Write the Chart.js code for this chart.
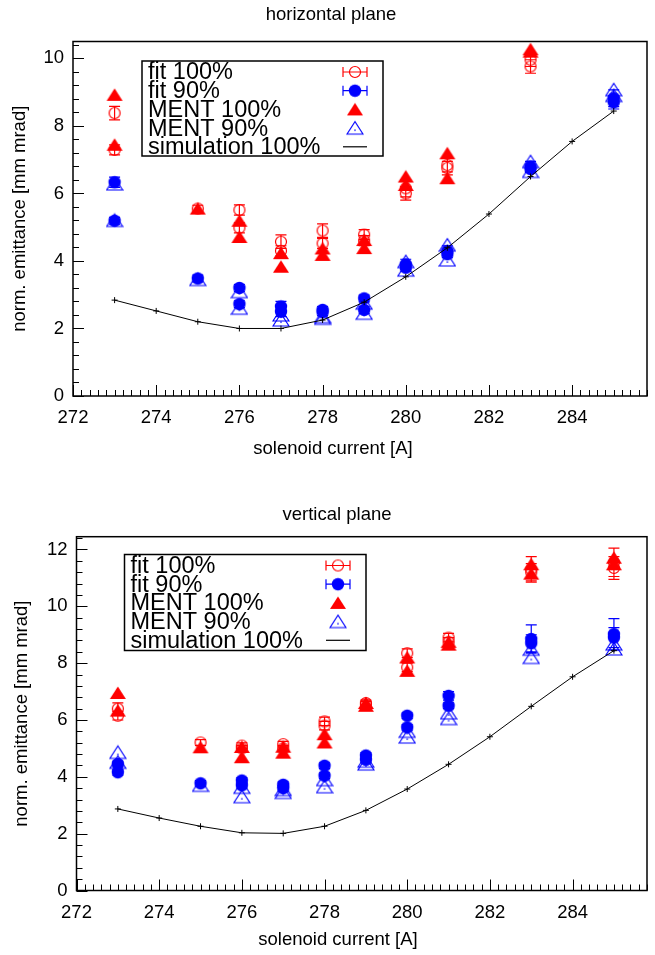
<!DOCTYPE html>
<html>
<head>
<meta charset="utf-8">
<script src="https://cdn.jsdelivr.net/npm/chart.js@4.4.0/dist/chart.umd.min.js"></script>
<style>
  body { margin: 0; background: #fff; }
  canvas { display: block; }
</style>
</head>
<body>
<canvas id="hChart" width="655" height="478"></canvas>
<canvas id="vChart" width="655" height="477"></canvas>
<script>
// simulation (line) - same currents for both planes
const simCurrent = [273, 274, 275, 276, 277, 278, 279, 280, 281, 282, 283, 284, 285];
const hSim = [2.84, 2.52, 2.2, 2.0, 2.0, 2.25, 2.78, 3.53, 4.39, 5.39, 6.5, 7.54, 8.44];
const vSim = [2.87, 2.55, 2.26, 2.03, 2.01, 2.26, 2.82, 3.57, 4.44, 5.41, 6.48, 7.52, 8.44];

// horizontal plane measurements (two runs per current)
const hCurrent100 = [273, 273, 275, 276, 276, 277, 277, 278, 278, 279, 279, 280, 280, 281, 281, 283, 283];
const hFit100 = [8.38, 7.29, 5.55, 5.51, 4.98, 4.57, 4.3, 4.9, 4.52, 4.78, 4.6, 6.15, 6.0, 6.84, 6.75, 9.96, 9.76];
const hFit100Err = [0.2, 0.15, 0.1, 0.15, 0.15, 0.2, 0.15, 0.2, 0.15, 0.15, 0.15, 0.25, 0.2, 0.2, 0.2, 0.2, 0.2];
const hMent100 = [8.92, 7.44, 5.55, 5.19, 4.71, 4.23, 3.83, 4.37, 4.18, 4.62, 4.38, 6.5, 6.25, 7.19, 6.45, 10.27, 10.2];
const hCurrent90 = [273, 273, 275, 276, 276, 277, 277, 278, 278, 279, 279, 280, 280, 281, 281, 283, 283, 285, 285];
const hFit90 = [6.33, 5.19, 3.48, 3.2, 2.72, 2.65, 2.5, 2.55, 2.48, 2.89, 2.55, 3.9, 3.8, 4.3, 4.2, 6.8, 6.72, 8.82, 8.7];
const hFit90Err = [0.15, 0.1, 0.1, 0.1, 0.1, 0.15, 0.15, 0.1, 0.1, 0.1, 0.1, 0.15, 0.1, 0.15, 0.1, 0.15, 0.1, 0.25, 0.2];
const hMent90 = [6.28, 5.2, 3.45, 3.09, 2.6, 2.4, 2.25, 2.35, 2.3, 2.75, 2.45, 3.98, 3.73, 4.47, 4.03, 6.94, 6.65, 9.07, 8.9];

// vertical plane measurements
const vCurrent = [273, 273, 275, 276, 276, 277, 277, 278, 278, 279, 279, 280, 280, 281, 281, 283, 283, 285, 285];
const vFit100 = [6.4, 6.15, 5.21, 5.1, 5.0, 5.15, 5.0, 5.95, 5.8, 6.6, 6.55, 8.35, 7.85, 8.9, 8.75, 11.3, 11.2, 11.55, 11.35];
const vFit100Err = [0.2, 0.15, 0.1, 0.1, 0.1, 0.1, 0.1, 0.15, 0.15, 0.1, 0.1, 0.15, 0.15, 0.15, 0.15, 0.45, 0.3, 0.5, 0.4];
const vMent100 = [6.95, 6.33, 5.04, 5.05, 4.69, 5.06, 4.85, 5.5, 5.21, 6.6, 6.5, 8.2, 7.73, 8.75, 8.65, 11.48, 11.15, 11.71, 11.48];
const vFit90 = [4.45, 4.16, 3.77, 3.87, 3.7, 3.72, 3.6, 4.39, 4.04, 4.75, 4.6, 6.15, 5.74, 6.85, 6.5, 8.85, 8.7, 9.02, 8.9];
const vFit90Err = [0.1, 0.1, 0.1, 0.1, 0.1, 0.1, 0.1, 0.1, 0.1, 0.1, 0.1, 0.1, 0.1, 0.15, 0.1, 0.5, 0.3, 0.55, 0.35];
const vMent90 = [4.86, 4.51, 3.7, 3.63, 3.3, 3.55, 3.45, 3.9, 3.65, 4.55, 4.45, 5.6, 5.4, 6.25, 6.05, 8.49, 8.2, 8.67, 8.5];

const seriesLabels = ['fit 100%', 'fit 90%', 'MENT 100%', 'MENT 90%', 'simulation 100%'];

const FONT = "'Liberation Sans', Arial, sans-serif";
const RED = '#ff0000';
const BLUE = '#0000ff';

Chart.defaults.color = '#000';
Chart.defaults.font.family = FONT;

// little canvases used as point styles (gnuplot-like markers)
function marker(kind, color) {
    const c = document.createElement('canvas');
    c.width = 18;
    c.height = 16;
    const g = c.getContext('2d');
    g.strokeStyle = color;
    g.fillStyle = color;
    g.lineWidth = 1.2;
    if (kind === 'openCircle') {
        g.beginPath(); g.arc(9, 8, 5.5, 0, Math.PI * 2); g.stroke();
    } else if (kind === 'dot') {
        g.beginPath(); g.arc(9, 8, 6.2, 0, Math.PI * 2); g.fill();
    } else {
        g.beginPath(); g.moveTo(9, 1.5); g.lineTo(17, 14); g.lineTo(1, 14); g.closePath();
        if (kind === 'triangle') {
            g.fill();
        } else {
            g.stroke();
            g.fillRect(8.3, 9.4, 1.4, 1.4);
        }
    }
    return c;
}

const markers = {
    fit100: marker('openCircle', RED),
    fit90: marker('dot', BLUE),
    ment100: marker('triangle', RED),
    ment90: marker('openTriangle', BLUE)
};

function toPoints(xs, ys) {
    return xs.map((x, i) => ({ x: x, y: ys[i] }));
}

// vertical error bars for the fit results
const errorBars = {
    id: 'errorBars',
    afterDatasetDraw(chart, args) {
        const ds = chart.data.datasets[args.index];
        if (!ds.errors) return;
        const { ctx } = chart;
        const y = chart.scales.y;
        ctx.save();
        ctx.strokeStyle = ds.borderColor;
        ctx.lineWidth = 1.2;
        ctx.beginPath();
        args.meta.data.forEach((pt, i) => {
            const v = ds.data[i].y;
            const e = ds.errors[i];
            const top = y.getPixelForValue(v + e);
            const bot = y.getPixelForValue(v - e);
            ctx.moveTo(pt.x, top); ctx.lineTo(pt.x, bot);
            ctx.moveTo(pt.x - 5.5, top); ctx.lineTo(pt.x + 5.5, top);
            ctx.moveTo(pt.x - 5.5, bot); ctx.lineTo(pt.x + 5.5, bot);
        });
        ctx.stroke();
        ctx.restore();
    }
};

// border with inward major/minor ticks
const frameTicks = {
    id: 'frameTicks',
    beforeDatasetsDraw(chart) {
        const { ctx, chartArea: a } = chart;
        const x = chart.scales.x;
        const y = chart.scales.y;
        ctx.save();
        ctx.strokeStyle = '#000';
        ctx.lineWidth = 1;
        ctx.beginPath();
        for (let i = 0; ; i++) {
            const v = x.min + i * 0.2;
            if (v > x.max + 1e-6) break;
            const px = Math.round(x.getPixelForValue(v)) + 0.5;
            const len = i % 10 === 0 ? 11 : 6;
            ctx.moveTo(px, a.bottom); ctx.lineTo(px, a.bottom - len);
        }
        for (let i = 0; ; i++) {
            const v = i * 0.4;
            if (v > y.max + 1e-6) break;
            const py = Math.round(y.getPixelForValue(v)) + 0.5;
            const len = i % 5 === 0 ? 11 : 6;
            ctx.moveTo(a.left, py); ctx.lineTo(a.left + len, py);
        }
        ctx.stroke();
        ctx.lineWidth = 1.5;
        ctx.strokeRect(a.left, a.top, a.right - a.left, a.bottom - a.top);
        ctx.restore();
    }
};

// plot title and x caption, centred on the page like the gnuplot output
const captions = {
    id: 'captions',
    afterDraw(chart, args, opts) {
        const { ctx } = chart;
        ctx.save();
        ctx.fillStyle = '#000';
        ctx.font = '18.5px ' + FONT;
        ctx.textAlign = 'center';
        ctx.textBaseline = 'middle';
        opts.items.forEach((it) => ctx.fillText(it.text, it.x, it.y));
        ctx.restore();
    }
};

// key box drawn inside the plot, text left / symbol right
const keyBox = {
    id: 'keyBox',
    afterDatasetsDraw(chart, args, opts) {
        const { ctx } = chart;
        const { left, top, width, height } = opts;
        ctx.save();
        ctx.fillStyle = '#fff';
        ctx.fillRect(left, top, width, height);
        ctx.strokeStyle = '#000';
        ctx.lineWidth = 1.5;
        ctx.strokeRect(left, top, width, height);
        ctx.font = '23.5px ' + FONT;
        ctx.textBaseline = 'middle';
        ctx.textAlign = 'left';
        const sx = left + width - 28;
        chart.data.datasets.forEach((ds, i) => {
            const yy = top + 11 + i * 18.7;
            ctx.fillStyle = '#000';
            ctx.fillText(ds.label, left + 6, yy + 1);
            ctx.strokeStyle = ds.borderColor;
            ctx.lineWidth = 1.2;
            if (ds.errors) {
                ctx.beginPath();
                ctx.moveTo(sx - 12, yy); ctx.lineTo(sx + 12, yy);
                ctx.moveTo(sx - 12, yy - 5); ctx.lineTo(sx - 12, yy + 5);
                ctx.moveTo(sx + 12, yy - 5); ctx.lineTo(sx + 12, yy + 5);
                ctx.stroke();
            }
            if (ds.showLine) {
                ctx.beginPath();
                ctx.moveTo(sx - 12, yy); ctx.lineTo(sx + 12, yy);
                ctx.stroke();
            } else {
                const m = ds.pointStyle;
                ctx.drawImage(m, sx - m.width / 2, yy - m.height / 2);
            }
        });
        ctx.restore();
    }
};

function makeChart(id, opt) {
    const W = 655;
    const H = opt.height;
    const datasets = [
        {
            label: seriesLabels[0], data: toPoints(opt.cur100, opt.fit100), errors: opt.fit100Err,
            borderColor: RED, pointStyle: markers.fit100, pointRadius: 6, showLine: false, order: 5
        },
        {
            label: seriesLabels[1], data: toPoints(opt.cur90, opt.fit90), errors: opt.fit90Err,
            borderColor: BLUE, pointStyle: markers.fit90, pointRadius: 6, showLine: false, order: 4
        },
        {
            label: seriesLabels[2], data: toPoints(opt.cur100, opt.ment100),
            borderColor: RED, pointStyle: markers.ment100, pointRadius: 7, showLine: false, order: 3
        },
        {
            label: seriesLabels[3], data: toPoints(opt.cur90, opt.ment90),
            borderColor: BLUE, pointStyle: markers.ment90, pointRadius: 7, showLine: false, order: 2
        },
        {
            label: seriesLabels[4], data: toPoints(simCurrent, opt.sim),
            borderColor: '#000', backgroundColor: '#000', borderWidth: 1, showLine: true, tension: 0,
            pointStyle: 'cross', pointRadius: 3, pointBorderWidth: 1, order: 1
        }
    ];

    return new Chart(document.getElementById(id), {
        type: 'scatter',
        data: { datasets: datasets },
        options: {
            responsive: false,
            animation: false,
            devicePixelRatio: 1,
            layout: { padding: { left: 0, right: W - opt.box.right, top: opt.box.top, bottom: 0 } },
            plugins: {
                legend: { display: false },
                tooltip: { enabled: false },
                title: { display: false },
                keyBox: opt.key,
                captions: {
                    items: [
                        { text: opt.title, x: opt.titlePos[0], y: opt.titlePos[1] },
                        { text: 'solenoid current [A]', x: opt.xTitlePos[0], y: opt.xTitlePos[1] }
                    ]
                }
            },
            scales: {
                x: {
                    type: 'linear',
                    min: 272,
                    max: 285.8,
                    grid: { display: false, drawTicks: false },
                    border: { display: false },
                    ticks: {
                        stepSize: 2,
                        includeBounds: false,
                        padding: 11,
                        maxRotation: 0,
                        font: { size: 18.5 },
                        callback: (v) => (v % 2 === 0 ? String(v) : '')
                    },
                    afterFit: (s) => { s.height = H - opt.box.bottom; }
                },
                y: {
                    type: 'linear',
                    min: 0,
                    max: opt.ymax,
                    grid: { display: false, drawTicks: false },
                    border: { display: false },
                    ticks: {
                        stepSize: 2,
                        includeBounds: false,
                        padding: 9,
                        font: { size: 18.5 },
                        callback: (v) => (v % 2 === 0 ? String(v) : '')
                    },
                    title: {
                        display: true,
                        text: 'norm. emittance [mm mrad]',
                        font: { size: 18.5 },
                        padding: { top: opt.yTitlePad, bottom: 0 }
                    },
                    afterFit: (s) => { s.width = opt.box.left; }
                }
            }
        },
        plugins: [frameTicks, errorBars, keyBox, captions]
    });
}

makeChart('hChart', {
    height: 478,
    title: 'horizontal plane',
    titlePos: [331, 15],
    xTitlePos: [333, 449],
    box: { left: 73, right: 647, top: 41.5, bottom: 396 },
    ymax: 10.5,
    yTitlePad: 9,
    key: { left: 142, top: 61, width: 241, height: 95 },
    cur100: hCurrent100, cur90: hCurrent90,
    fit100: hFit100, fit100Err: hFit100Err, ment100: hMent100,
    fit90: hFit90, fit90Err: hFit90Err, ment90: hMent90,
    sim: hSim
});

makeChart('vChart', {
    height: 477,
    title: 'vertical plane',
    titlePos: [337, 37],
    xTitlePos: [338, 462],
    box: { left: 76.5, right: 653, top: 58.7, bottom: 412.5 },
    ymax: 12.45,
    yTitlePad: 11,
    key: { left: 124.5, top: 76.5, width: 241.5, height: 96 },
    cur100: vCurrent, cur90: vCurrent,
    fit100: vFit100, fit100Err: vFit100Err, ment100: vMent100,
    fit90: vFit90, fit90Err: vFit90Err, ment90: vMent90,
    sim: vSim
});
</script>
</body>
</html>
